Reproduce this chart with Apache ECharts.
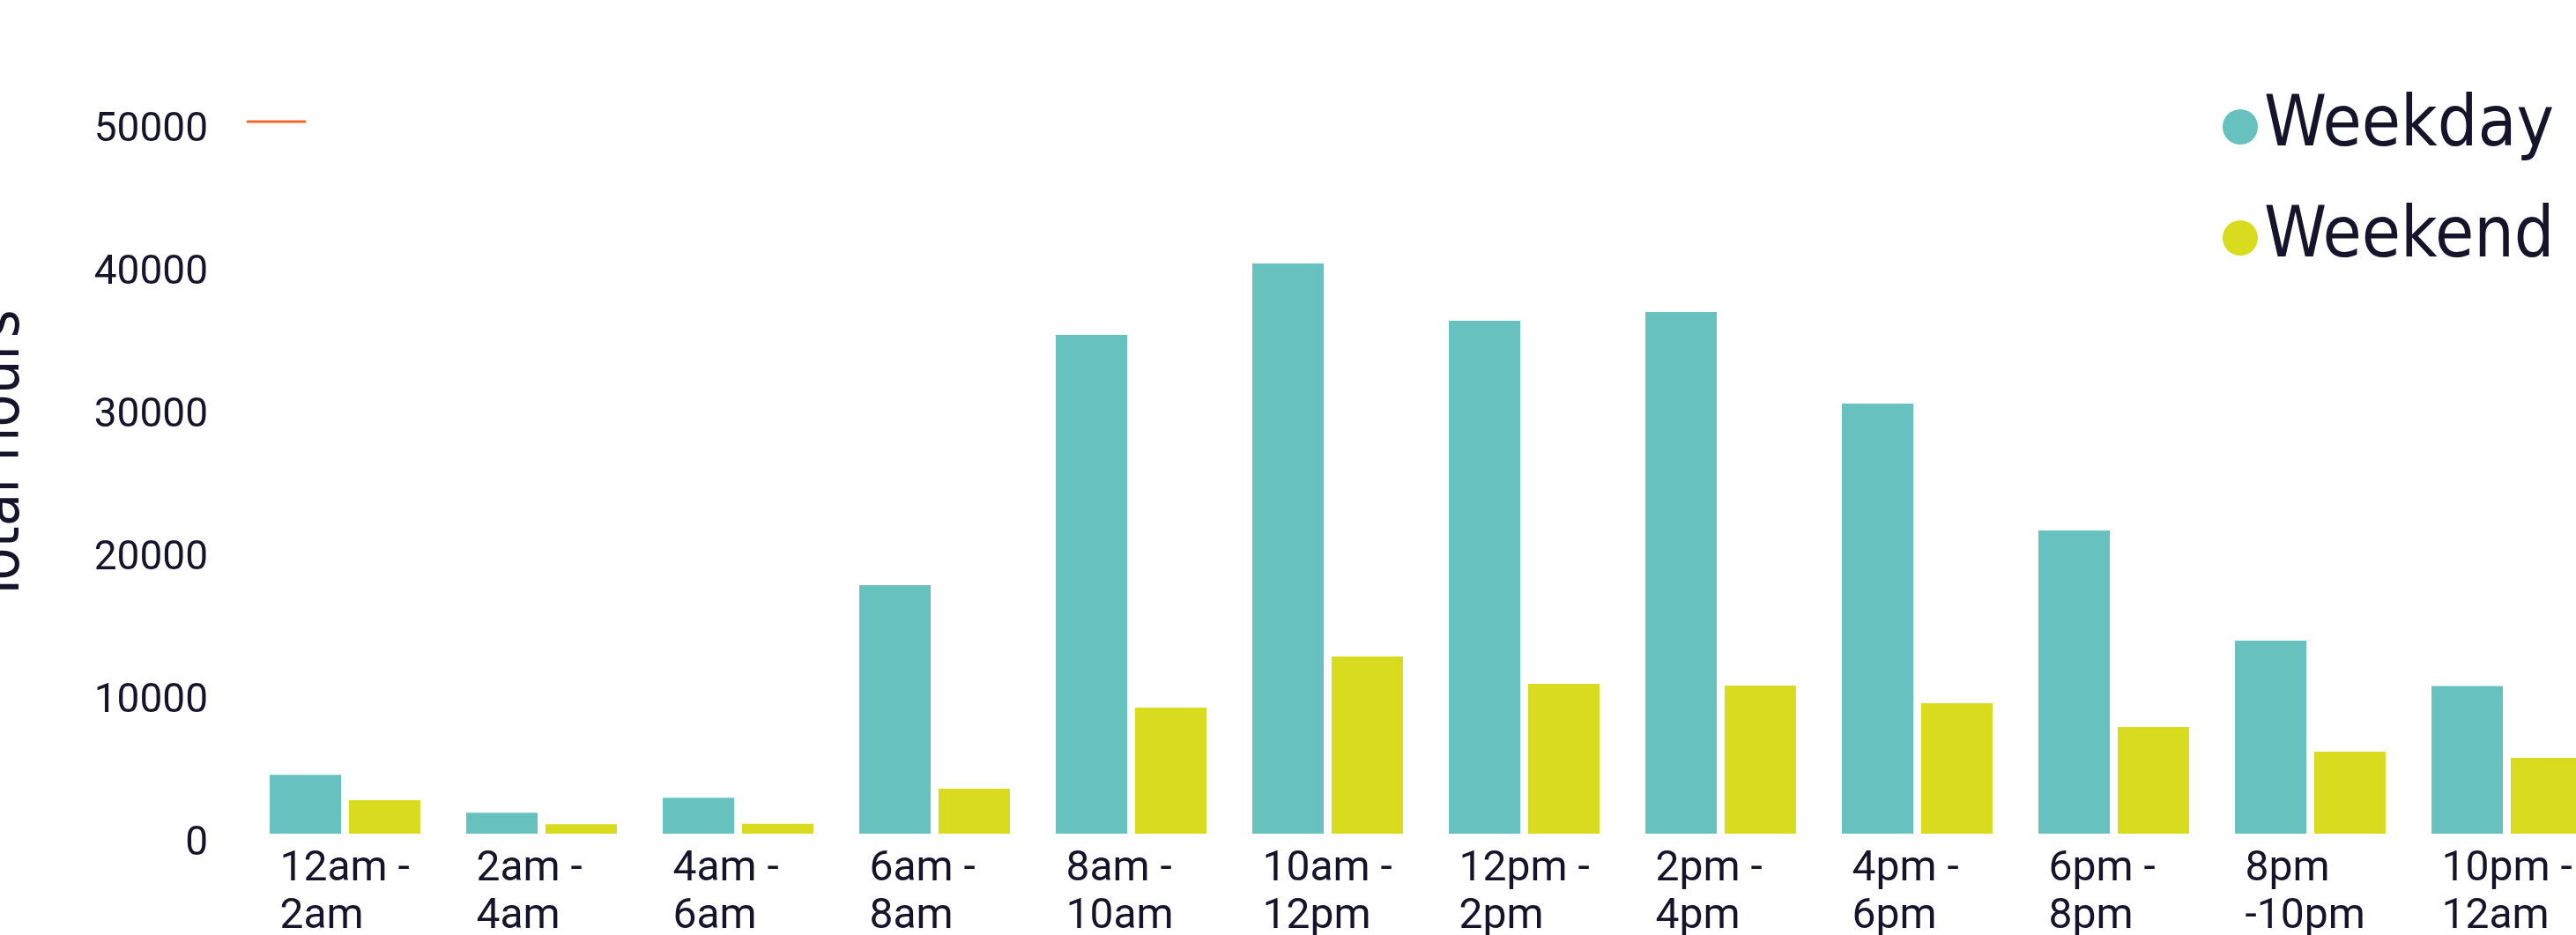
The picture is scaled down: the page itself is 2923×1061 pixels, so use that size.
<!DOCTYPE html>
<html>
<head>
<meta charset="utf-8">
<title>Total hours by time of day</title>
<script src="https://cdn.jsdelivr.net/npm/echarts@6/dist/echarts.min.js"></script>
<style>
  html, body { margin: 0; padding: 0; background: #ffffff; }
  #chart { width: 2923px; height: 1061px; }
</style>
</head>
<body>
<div id="chart"></div>
<script>
// Two-hour time slots
const timeSlots = [
  '12am -\n2am', '2am -\n4am', '4am -\n6am', '6am -\n8am',
  '8am -\n10am', '10am -\n12pm', '12pm -\n2pm', '2pm -\n4pm',
  '4pm -\n6pm', '6pm -\n8pm', '8pm\n-10pm', '10pm -\n12am'
];

// Total hours per slot
const weekdayHours = [4120, 1460, 2510, 17400, 34940, 39940, 35930, 36540, 30120, 21230, 13520, 10340];
const weekendHours = [2350, 660, 700, 3150, 8830, 12410, 10490, 10370, 9140, 7470, 5740, 5310];

// Value axis ticks
const yTicks = [0, 10000, 20000, 30000, 40000, 50000];

const seriesNames = ['Weekday', 'Weekend'];
const seriesColors = ['#66C1BF', '#D9DB1F'];

const textColor = '#15142A';
const condensedFont = '"DejaVu Sans Condensed", Roboto, sans-serif';

const chart = echarts.init(document.getElementById('chart'), null, { renderer: 'canvas' });

chart.setOption({
  animation: false,
  backgroundColor: '#ffffff',
  grid: {
    left: 280, top: 136, width: 2676, height: 810,
    containLabel: false,
    outerBoundsMode: 'none'
  },
  legend: {
    orient: 'vertical',
    left: 2517,
    top: 99,
    icon: 'circle',
    itemWidth: 40,
    itemHeight: 40,
    itemGap: 46,
    data: seriesNames,
    textStyle: {
      color: textColor,
      fontFamily: condensedFont,
      fontSize: 80,
      lineHeight: 80,
      padding: [0, 0, 0, 2]
    }
  },
  xAxis: {
    type: 'category',
    data: timeSlots,
    axisLine: { show: false },
    axisTick: { show: false },
    axisLabel: {
      interval: 0,
      margin: 14,
      color: textColor,
      fontFamily: 'Roboto, sans-serif',
      fontSize: 48,
      lineHeight: 54,
      align: 'left',
      padding: [0, 0, 0, -74]
    }
  },
  yAxis: {
    type: 'value',
    min: yTicks[0],
    max: yTicks[yTicks.length - 1],
    interval: yTicks[1] - yTicks[0],
    axisLine: { show: false },
    axisTick: { show: false },
    splitLine: { show: false },
    axisLabel: {
      margin: 44,
      color: textColor,
      fontFamily: 'Roboto, sans-serif',
      fontSize: 46,
      verticalAlign: 'top',
      lineHeight: 25,
      formatter: (v) => String(v)
    }
  },
  series: [
    {
      name: seriesNames[0],
      type: 'bar',
      data: weekdayHours,
      barWidth: 81,
      barGap: '11%',
      itemStyle: { color: seriesColors[0] }
    },
    {
      name: seriesNames[1],
      type: 'bar',
      data: weekendHours,
      barWidth: 81,
      barGap: '11%',
      itemStyle: { color: seriesColors[1] }
    }
  ],
  graphic: [
    {
      type: 'text',
      x: 3,
      y: 518,
      rotation: Math.PI / 2,
      style: {
        text: 'Total hours',
        fill: textColor,
        font: '68px ' + condensedFont,
        align: 'center',
        verticalAlign: 'middle'
      }
    },
    {
      type: 'line',
      shape: { x1: 280, y1: 138, x2: 347, y2: 138 },
      style: { stroke: '#F26A2B', lineWidth: 3 }
    }
  ]
});
</script>
</body>
</html>
